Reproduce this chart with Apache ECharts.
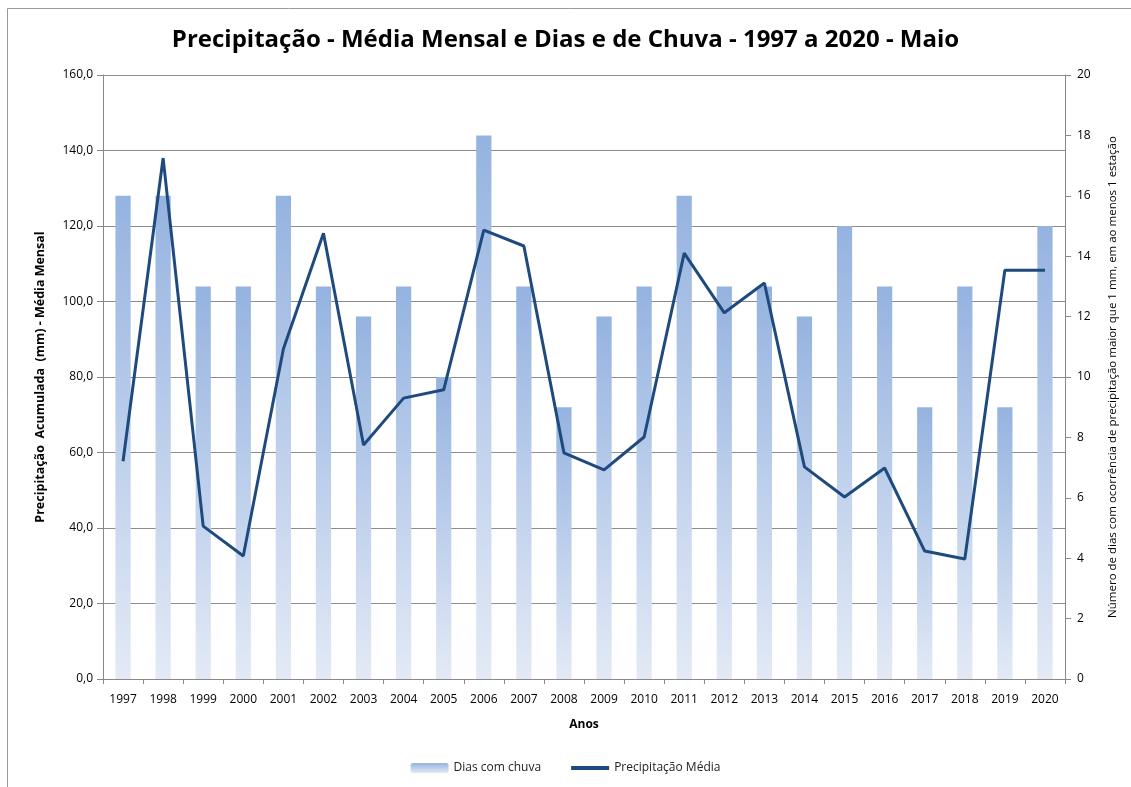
<!DOCTYPE html>
<html>
<head>
<meta charset="utf-8">
<script src="https://cdn.jsdelivr.net/npm/echarts@6/dist/echarts.min.js"></script>
<style>
  html, body { margin: 0; padding: 0; background: #fff; }
  #chart { width: 1131px; height: 787px; }
</style>
</head>
<body>
<div id="chart"></div>
<script>
var anos = ['1997', '1998', '1999', '2000', '2001', '2002', '2003', '2004', '2005', '2006', '2007', '2008',
    '2009', '2010', '2011', '2012', '2013', '2014', '2015', '2016', '2017', '2018', '2019', '2020'];
var diasChuva = [16, 16, 13, 13, 16, 13, 12, 13, 10, 18, 13, 9, 12, 13, 16, 13, 13, 12, 15, 13, 9, 13, 9, 15];
var precipMedia = [57.7, 138.0, 40.5, 32.6, 87.4, 118.1, 62.0, 74.4, 76.6, 118.9, 114.7, 59.9,
    55.4, 64.1, 112.8, 97.0, 104.9, 56.2, 48.2, 55.9, 33.9, 31.8, 108.3, 108.3];

var font = 'Open Sans';

document.addEventListener("DOMContentLoaded", () => {
    echarts.init(document.querySelector("#chart")).setOption({
        animation: false,
        textStyle: { fontFamily: font },
        graphic: [{
            type: 'rect',
            shape: { x: 7.5, y: 8.5, width: 1200, height: 900 },
            style: { fill: 'none', stroke: '#9a9a9a', lineWidth: 1 },
            silent: true
        }],
        title: {
            text: 'Precipitação - Média Mensal e Dias e de Chuva - 1997 a 2020 - Maio',
            left: 'center',
            top: 23,
            textStyle: { fontFamily: font, fontSize: 24, fontWeight: 'bold', color: '#000' }
        },
        legend: {
            bottom: 8,
            left: 'center',
            itemWidth: 38,
            itemHeight: 10,
            itemGap: 30,
            textStyle: { fontFamily: font, fontSize: 12, color: '#222' },
            data: [
                { name: 'Dias com chuva' },
                { name: 'Precipitação Média', icon: 'path://M0,0 L40,0 L40,4 L0,4 Z' }
            ]
        },
        grid: { left: 103, right: 66, top: 75, bottom: 108 },
        xAxis: {
            type: 'category',
            data: anos,
            name: 'Anos',
            nameLocation: 'middle',
            nameGap: 40,
            nameTextStyle: { fontFamily: font, fontSize: 12, fontWeight: 'bold', color: '#000' },
            axisLine: { lineStyle: { color: '#888' } },
            axisTick: { show: true, alignWithLabel: false, length: 5, lineStyle: { color: '#888' } },
            axisLabel: { fontSize: 12, color: '#000', margin: 15 }
        },
        yAxis: [{
            type: 'value',
            min: 0,
            max: 160,
            interval: 20,
            name: 'Precipitação  Acumulada  (mm) - Média Mensal',
            nameLocation: 'middle',
            nameGap: 56,
            nameTextStyle: { fontFamily: font, fontSize: 12.5, fontWeight: 'bold', color: '#000' },
            axisLine: { show: true, lineStyle: { color: '#888' } },
            axisTick: { show: true, length: 6, lineStyle: { color: '#888' } },
            axisLabel: {
                fontSize: 12, color: '#000', margin: 10,
                formatter: function (v) { return v.toFixed(1).replace('.', ','); }
            },
            splitLine: { lineStyle: { color: '#8c8c8c' } }
        }, {
            type: 'value',
            min: 0,
            max: 20,
            interval: 2,
            name: 'Número de dias com ocorrência de precipitação maior que 1 mm, em ao menos 1 estação',
            nameLocation: 'middle',
            nameGap: 42,
            nameTextStyle: { fontFamily: font, fontSize: 11.5, color: '#000' },
            axisLine: { show: true, lineStyle: { color: '#888' } },
            axisTick: { show: true, length: 6, lineStyle: { color: '#888' } },
            axisLabel: { fontSize: 12, color: '#000', margin: 12 },
            splitLine: { show: false }
        }],
        series: [{
            name: 'Dias com chuva',
            type: 'bar',
            yAxisIndex: 1,
            data: diasChuva,
            barWidth: '38%',
            itemStyle: {
                color: new echarts.graphic.LinearGradient(0, 0, 0, 1, [
                    { offset: 0, color: '#95b3e0' },
                    { offset: 1, color: '#e3eaf6' }
                ])
            }
        }, {
            name: 'Precipitação Média',
            type: 'line',
            yAxisIndex: 0,
            data: precipMedia,
            symbol: 'none',
            lineStyle: { color: '#1f4a7e', width: 3 },
            itemStyle: { color: '#1f4a7e' }
        }]
    });
});
</script>
</body>
</html>
